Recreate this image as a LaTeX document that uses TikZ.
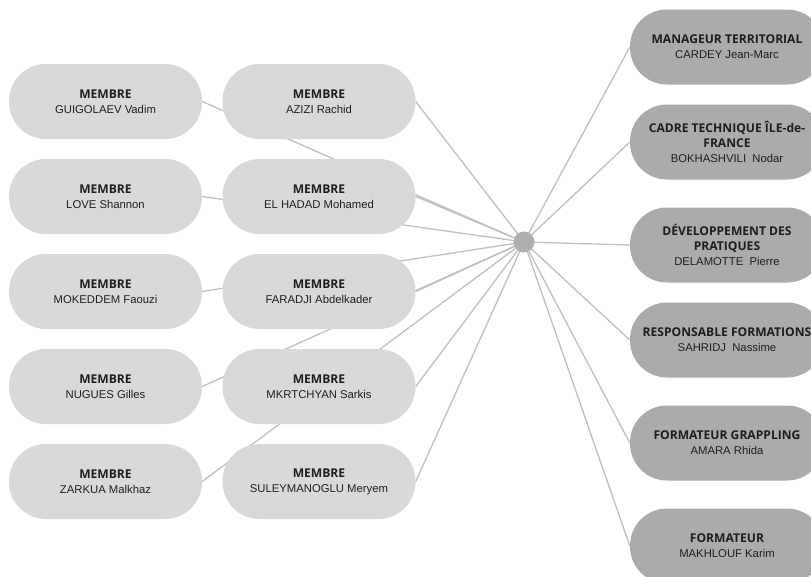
\documentclass[tikz,border=0pt]{standalone}
\usepackage{fontspec}
\setmainfont{Liberation Sans}
\newfontfamily\ttlfont{Open Sans}
\usetikzlibrary{backgrounds}
\definecolor{lightbox}{HTML}{D9D9D9}
\definecolor{darkbox}{HTML}{ABABAB}
\definecolor{edgecol}{HTML}{BFBFBF}
\definecolor{hubcol}{HTML}{B0B0B0}
\definecolor{txtcol}{HTML}{1E1E1E}
\newcommand{\ttl}[1]{{\ttlfont\bfseries\fontsize{12.1}{14.8}\selectfont #1}}
\tikzset{
  membox/.style={fill=lightbox, rounded corners=37pt, minimum width=193pt, minimum height=75pt,
    align=center, inner sep=0pt, text=txtcol, font=\fontsize{11.3}{14.8}\selectfont},
  rolebox/.style={membox, fill=darkbox, minimum width=194pt},
  link/.style={draw=edgecol, line width=1.3pt},
  hubdot/.style={circle, fill=hubcol, minimum size=21pt, inner sep=0pt},
}
\begin{document}
\begin{tikzpicture}[x=1pt,y=-1pt]
\useasboundingbox (0,0) rectangle (811,576);
\clip (0,0) rectangle (811,576);
% left column
\node[membox] (l1) at (105.5,101.5) {\ttl{MEMBRE}\\GUIGOLAEV Vadim};
\node[membox] (l2) at (105.5,196.5) {\ttl{MEMBRE}\\LOVE Shannon};
\node[membox] (l3) at (105.5,291.5) {\ttl{MEMBRE}\\MOKEDDEM Faouzi};
\node[membox] (l4) at (105.5,386.5) {\ttl{MEMBRE}\\NUGUES Gilles};
\node[membox] (l5) at (105.5,481.5) {\ttl{MEMBRE}\\ZARKUA Malkhaz};
% inner column
\node[membox] (m1) at (319,101.5) {\ttl{MEMBRE}\\AZIZI Rachid};
\node[membox] (m2) at (319,196.5) {\ttl{MEMBRE}\\EL HADAD Mohamed};
\node[membox] (m3) at (319,291.5) {\ttl{MEMBRE}\\FARADJI Abdelkader};
\node[membox] (m4) at (319,386.5) {\ttl{MEMBRE}\\MKRTCHYAN Sarkis};
\node[membox] (m5) at (319,481.5) {\ttl{MEMBRE}\\SULEYMANOGLU Meryem};
% right column
\node[rolebox] (r1) at (727,47) {\ttl{MANAGEUR TERRITORIAL}\\CARDEY Jean-Marc};
\node[rolebox] (r2) at (727,142) {\ttl{CADRE TECHNIQUE ÎLE-de-}\\\ttl{FRANCE}\\BOKHASHVILI\ \ Nodar};
\node[rolebox] (r3) at (727,245) {\ttl{DÉVELOPPEMENT DES}\\\ttl{PRATIQUES}\\DELAMOTTE\ \ Pierre};
\node[rolebox] (r4) at (727,340) {\ttl{RESPONSABLE FORMATIONS}\\SAHRIDJ\ \ Nassime};
\node[rolebox] (r5) at (727,443) {\ttl{FORMATEUR GRAPPLING}\\AMARA Rhida};
\node[rolebox] (r6) at (727,546) {\ttl{FORMATEUR}\\MAKHLOUF Karim};
% hub
\node[hubdot] (hub) at (524,242) {};
\begin{scope}[on background layer]
  \foreach \n in {l1,l2,l3,l4,l5,m1,m2,m3,m4,m5} {\draw[link] (\n.east) -- (hub.center);}
  \foreach \n in {r1,r2,r3,r4,r5,r6} {\draw[link] (hub.center) -- (\n.west);}
\end{scope}
\end{tikzpicture}
\end{document}
